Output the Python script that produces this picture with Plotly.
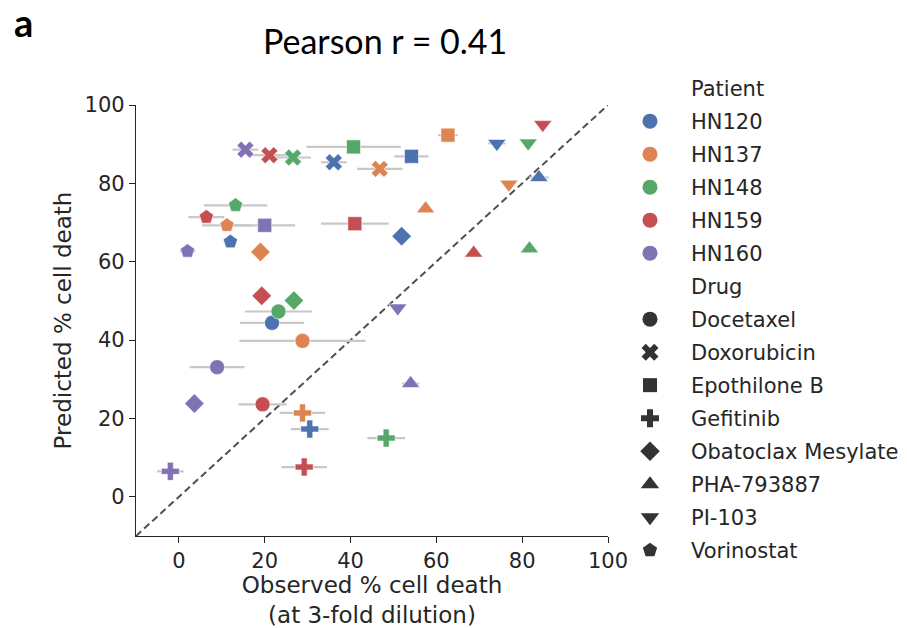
import plotly.graph_objects as go

# Patients (colour) and drugs (marker shape)
patients = ["HN120", "HN137", "HN148", "HN159", "HN160"]
patient_colors = ["#4C72B0", "#DD8452", "#55A868", "#C44E52", "#8172B3"]

drugs = ["Docetaxel", "Doxorubicin", "Epothilone B", "Gefitinib",
         "Obatoclax Mesylate", "PHA-793887", "PI-103", "Vorinostat"]
drug_symbols = ["circle", "x", "square", "cross",
                "diamond", "triangle-up", "triangle-down", "pentagon"]
drug_sizes = [15, 15, 14, 15, 15, 16, 16, 15]

# Observed % cell death (at 3-fold dilution), one value per drug in the order above
observed_hn120 = [21.7, 36.1, 54.2, 30.5, 51.9, 83.9, 74.1, 12.0]
observed_hn137 = [28.8, 46.8, 62.7, 28.8, 19.0, 57.5, 76.9, 11.2]
observed_hn148 = [23.2, 26.6, 40.7, 48.3, 26.8, 81.7, 81.4, 13.2]
observed_hn159 = [19.5, 21.1, 41.0, 29.2, 19.3, 68.7, 84.8, 6.4]
observed_hn160 = [8.9, 15.5, 20.0, -2.0, 3.6, 54.0, 51.0, 2.0]

# Predicted % cell death
predicted_hn120 = [44.4, 85.4, 86.9, 17.3, 66.5, 81.5, 90.2, 65.1]
predicted_hn137 = [39.8, 83.7, 92.3, 21.4, 62.5, 73.5, 79.8, 69.3]
predicted_hn148 = [47.3, 86.6, 89.3, 15.0, 50.1, 63.3, 90.3, 74.4]
predicted_hn159 = [23.6, 87.2, 69.7, 7.6, 51.3, 62.2, 95.0, 71.4]
predicted_hn160 = [33.1, 88.6, 69.3, 6.5, 23.8, 28.9, 48.2, 62.7]

# Spread of the observed value (half width of the horizontal bar)
spread_hn120 = [7.5, 3.0, 4.0, 4.4, 1.0, 2.3, 2.0, 1.0]
spread_hn137 = [14.7, 5.3, 2.3, 5.3, 1.0, 1.0, 1.0, 5.8]
spread_hn148 = [7.8, 4.2, 11.0, 4.4, 1.0, 1.0, 1.0, 7.4]
spread_hn159 = [5.6, 4.0, 7.9, 5.3, 1.0, 1.0, 1.0, 4.2]
spread_hn160 = [6.4, 3.0, 7.1, 3.1, 1.0, 2.0, 1.0, 1.8]

observed = [observed_hn120, observed_hn137, observed_hn148, observed_hn159, observed_hn160]
predicted = [predicted_hn120, predicted_hn137, predicted_hn148, predicted_hn159, predicted_hn160]
spread = [spread_hn120, spread_hn137, spread_hn148, spread_hn159, spread_hn160]

axis_range = [-10, 100]
ticks = [0, 20, 40, 60, 80, 100]

TEXT = "#262626"
FONT = "DejaVu Sans"

fig = go.Figure()

# identity line
fig.add_trace(go.Scatter(
    x=axis_range, y=axis_range, mode="lines",
    line=dict(color="#505050", width=2, dash="7px,4px"),
    showlegend=False, hoverinfo="skip",
))

# horizontal ranges, drawn beneath every marker
all_x, all_y, all_e = [], [], []
for p in range(len(patients)):
    all_x += observed[p]
    all_y += predicted[p]
    all_e += spread[p]
fig.add_trace(go.Scatter(
    x=all_x, y=all_y, mode="markers",
    marker=dict(size=1, color="rgba(0,0,0,0)"),
    error_x=dict(type="data", array=all_e, color="#c8c8c8", thickness=2.2, width=0),
    showlegend=False, hoverinfo="skip",
))

# one trace per drug, coloured by patient
for d, drug in enumerate(drugs):
    xs = [observed[p][d] for p in range(len(patients))]
    ys = [predicted[p][d] for p in range(len(patients))]
    fig.add_trace(go.Scatter(
        x=xs, y=ys, mode="markers", name=drug,
        marker=dict(symbol=drug_symbols[d], size=drug_sizes[d],
                    color=patient_colors, line=dict(color="white", width=0.6)),
        text=patients, showlegend=False,
    ))

# legend: patient colours, then drug shapes
def legend_entry(name, symbol, color, size):
    fig.add_trace(go.Scatter(
        x=[None], y=[None], mode="markers", name=name, legendgroup=name,
        marker=dict(symbol=symbol, size=size, color=color, line=dict(width=0)),
        showlegend=True,
    ))

legend_entry("Patient", "circle", "rgba(0,0,0,0)", 14)
for name, col in zip(patients, patient_colors):
    legend_entry(name, "circle", col, 15)
legend_entry("Drug", "circle", "rgba(0,0,0,0)", 14)
for name, sym, sz in zip(drugs, drug_symbols, drug_sizes):
    legend_entry(name, sym, "#333333", sz)

axis_style = dict(
    range=axis_range, tickvals=ticks, ticks="outside", ticklen=6, tickwidth=1.3,
    tickcolor=TEXT, showline=True, linecolor=TEXT, linewidth=1.3,
    showgrid=False, zeroline=False, tickfont=dict(family=FONT, size=21, color=TEXT),
)

fig.update_layout(
    width=907, height=628,
    margin=dict(l=136, r=299, t=105, b=92, autoexpand=False),
    plot_bgcolor="white", paper_bgcolor="white",
    font=dict(family=FONT, color=TEXT),
    xaxis=dict(axis_style, title=dict(text="Observed % cell death<br>(at 3-fold dilution)",
                                      font=dict(family=FONT, size=23, color=TEXT), standoff=6)),
    yaxis=dict(axis_style, title=dict(text="Predicted % cell death",
                                      font=dict(family=FONT, size=23, color=TEXT), standoff=6)),
    legend=dict(
        xref="container", yref="container", x=609 / 907, y=1 - 68 / 628,
        xanchor="left", yanchor="top", traceorder="grouped", tracegroupgap=2.7,
        itemwidth=72, maxheight=600, font=dict(family=FONT, size=21, color=TEXT),
        bgcolor="rgba(0,0,0,0)", borderwidth=0,
    ),
    showlegend=True,
)

fig.add_annotation(text="Pearson r = 0.41", xref="paper", yref="paper",
                   x=(385 - 136) / 472, y=1 + (105 - 40) / 431, xanchor="center", yanchor="middle",
                   showarrow=False, font=dict(family="Lato", size=34, color="#000000"))
fig.add_annotation(text="<b>a</b>", xref="paper", yref="paper",
                   x=(12 - 136) / 472, y=1 + (105 - 22) / 431, xanchor="left", yanchor="middle",
                   showarrow=False, font=dict(family="Lato", size=38, color="#000000"))

fig.write_html("out.html")
